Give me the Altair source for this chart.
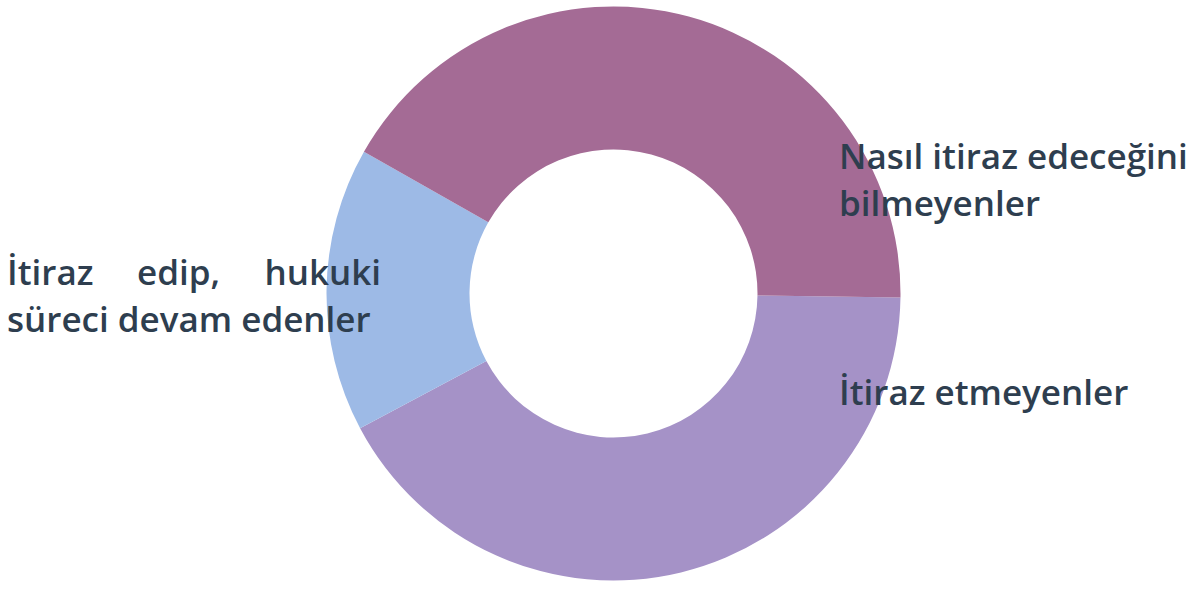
import altair as alt
import pandas as pd
import math

# Slice data (clockwise, starting at ~3 o'clock)
categories = ["İtiraz etmeyenler", "İtiraz edip, hukuki süreci devam edenler", "Nasıl itiraz edeceğini bilmeyenler"]
values = [42, 16, 42]
colors = ["#a592c7", "#9dbae6", "#a46b95"]

# Label words / lines
label_texts = ["Nasıl itiraz edeceğini", "bilmeyenler", "İtiraz etmeyenler",
               "İtiraz", "edip,", "hukuki", "süreci devam edenler"]
label_x = [839, 839, 839, 7, 137, 381, 7]
label_y = [169, 216, 405, 285, 285, 285, 332]
label_align = ["left", "left", "left", "left", "left", "right", "left"]

df = pd.DataFrame({"cat": categories, "value": values, "order": [0, 1, 2]})
lab = pd.DataFrame({"t": label_texts, "x": label_x, "y": label_y, "a": label_align})

start = math.radians(90.8)

arc = alt.Chart(df).mark_arc(innerRadius=144, outerRadius=287, stroke=None).encode(
    theta=alt.Theta("value:Q", stack=True, scale=alt.Scale(range=[start, start + 2 * math.pi])),
    color=alt.Color("cat:N", scale=alt.Scale(domain=categories, range=colors), legend=None),
    order=alt.Order("order:Q"),
    x=alt.value(613.5),
    y=alt.value(293.5),
)

def text_layer(align):
    return alt.Chart(lab[lab.a == align]).mark_text(
        align=align, baseline="alphabetic", font="Open Sans", fontSize=35, fontWeight=600, color="#2e3e4f"
    ).encode(
        x=alt.X("x:Q", scale=None),
        y=alt.Y("y:Q", scale=None),
        text="t:N",
    )

chart = alt.layer(arc, text_layer("left"), text_layer("right")).properties(
    width=1200, height=589, padding=0, autosize=alt.AutoSizeParams(type="none")
).configure_view(stroke=None)

chart.save("out.html", embed_options={"renderer": "svg", "actions": False})
